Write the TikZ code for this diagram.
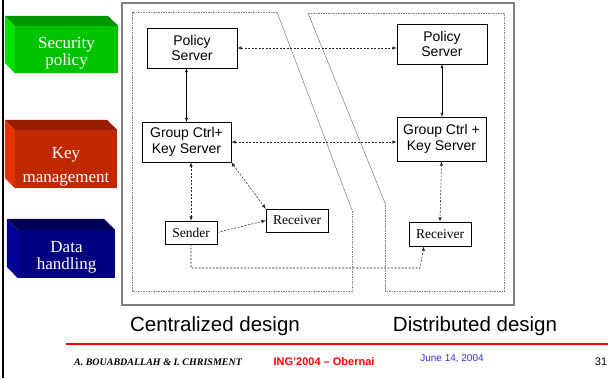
\documentclass[tikz,border=0pt]{standalone}
\usepackage{fontspec}
\setmainfont{Liberation Serif}
\setsansfont{Liberation Sans}
\usetikzlibrary{arrows}
\definecolor{grfront}{RGB}{0,195,0}
\definecolor{grtop}{RGB}{0,150,0}
\definecolor{grside}{RGB}{0,222,0}
\definecolor{rdfront}{RGB}{192,40,0}
\definecolor{rdtop}{RGB}{150,30,0}
\definecolor{rdside}{RGB}{225,50,0}
\definecolor{blfront}{RGB}{0,0,128}
\definecolor{bltop}{RGB}{0,0,85}
\definecolor{blside}{RGB}{0,0,150}
\definecolor{datecol}{RGB}{51,51,204}
\tikzset{
  block/.style={inner sep=0, minimum width=103, minimum height=47},
  blocktext/.style={text=white, align=center, inner sep=0,
    font=\fontsize{17}{17}\selectfont},
  srv/.style={draw, thin, inner sep=0, minimum width=90, minimum height=40,
    align=center, font=\sffamily\fontsize{14}{15.5}\selectfont},
  host/.style={draw, thin, inner sep=0, minimum width=52, minimum height=23,
    font=\fontsize{13.5}{15}\selectfont},
  dlink/.style={black!85, line width=0.55, dash pattern=on 2pt off 1.5pt},
  region/.style={gray, thin, dash pattern=on 1.5pt off 1pt},
  slant/.style={gray!80!black, thin},
  caption/.style={font=\sffamily\fontsize{20.5}{22}\selectfont}
}

\begin{document}
\begin{tikzpicture}[x=1pt, y=-1pt, >=latex]
  \useasboundingbox (0,0) rectangle (608,378);
  % left black rule and frame
  \draw [line width=2.5] (3,0) -- (3,378);
  \draw [gray, line width=1.5] (122,3) rectangle (514,305);
  % coloured blocks
  \node [block, fill=grfront] (SP) at (66.5,49.5) {};
  \fill [grtop] (SP.north west) -- ++(-10,-10) -- ++(103,0) -- (SP.north east) -- cycle;
  \fill [grside] (SP.north west) -- ++(-10,-10) -- ++(0,47) -- (SP.south west) -- cycle;
  \node [blocktext] (SPt) at ([yshift=-3.5]SP.center) {Security\\policy};
  \node [block, fill=rdfront, minimum width=102, minimum height=58] (KM) at (66,159) {};
  \fill [rdtop] (KM.north west) -- ++(-10,-10) -- ++(102,0) -- (KM.north east) -- cycle;
  \fill [rdside] (KM.north west) -- ++(-10,-10) -- ++(0,58) -- (KM.south west) -- cycle;
  \node [blocktext] (KMt) at ([yshift=-8]KM.center) {Key\\[6.5pt]management};
  \node [block, fill=blfront, minimum width=97, minimum height=48] (DH) at (66.5,254) {};
  \fill [bltop] (DH.north west) -- ++(-11,-11) -- ++(97,0) -- (DH.north east) -- cycle;
  \fill [blside] (DH.north west) -- ++(-11,-11) -- ++(0,48) -- (DH.south west) -- cycle;
  \node [blocktext] (DHt) at ([yshift=-3]DH.center) {Data\\handling};
  % design regions
  \draw [region] (277,12) -- (132,12) -- (132,291) -- (352,291) -- (352,210);
  \draw [slant] (277,12) -- (352,210);
  \draw [region] (308,13) -- (504,13) -- (504,291) -- (385,291) -- (385,203);
  \draw [slant] (308,13) -- (385,203);
  % servers and hosts
  \node [srv] (PSL) at (192,48) {Policy\\Server};
  \node [srv, minimum width=89] (GKL) at (186.5,142) {Group Ctrl+\\Key Server};
  \node [host] (SND) at (191,232.5) {Sender};
  \node [host, minimum width=62] (RCL) at (297,220.5) {Receiver};
  \node [srv] (PSR) at (442,44) {Policy\\Server};
  \node [srv, minimum width=89, minimum height=44] (GKR) at (441.5,139) {Group Ctrl +\\Key Server};
  \node [host, minimum width=62, minimum height=24] (RCR) at (440,234) {Receiver};
  \coordinate (turn) at (420,268);
  % links
  \draw [<->] (GKL.north) -- (GKL.north |- PSL.south);
  \draw [<->] (PSR.south) -- (PSR.south |- GKR.north);
  \draw [dlink,<->] (PSL.east) -- (PSL.east -| PSR.west);
  \draw [dlink,<->] (GKL.east) -- (GKL.east -| GKR.west);
  \draw [dlink,<->] (SND.north) -- (SND.north |- GKL.south);
  \draw [dlink,<->] (GKL.south east) -- (RCL.north west);
  \draw [dlink,->] (SND.east) -- (RCL.west);
  \draw [dlink,->] (SND.south) |- (turn) -- ([xshift=-16]RCR.south);
  \draw [dlink,<->] (GKR.south) -- (RCR.north);
  % captions and footer
  \node [caption] (CEN) at (215,326) {Centralized design};
  \node [caption] (DIS) at (475,326) {Distributed design};
  \draw [red, line width=2] (66,344) -- (608,344);
  \node [font=\bfseries\itshape\fontsize{10}{12}\selectfont] (AUT) at (158,362) {A. BOUABDALLAH \& I. CHRISMENT};
  \node [red, font=\sffamily\bfseries\fontsize{11}{12}\selectfont] (CONF) at (324,362) {ING'2004 -- Obernai};
  \node [datecol, font=\sffamily\fontsize{10}{12}\selectfont] (DATE) at (452,359) {June 14, 2004};
  \node [font=\sffamily\fontsize{11}{12}\selectfont] (PAGE) at (601,362) {31};
\end{tikzpicture}
\end{document}
